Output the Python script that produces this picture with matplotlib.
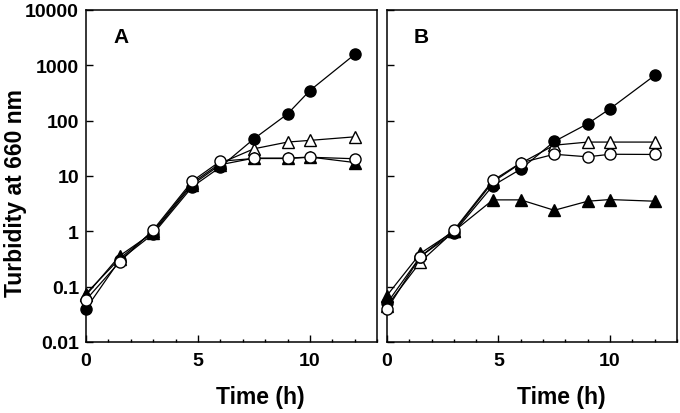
import matplotlib
matplotlib.use("Agg")
import matplotlib.pyplot as plt
from matplotlib.ticker import FixedLocator, MultipleLocator, NullLocator

plt.rcParams['font.family'] = ['Liberation Sans', 'DejaVu Sans']
plt.rcParams['font.weight'] = 'bold'

time_h = [0, 1.5, 3, 4.75, 6, 7.5, 9, 10, 12]

a_filled_circle = [0.04, 0.30, 0.9, 6.4, 14.5, 47, 132, 350, 1570]
a_open_triangle = [0.075, 0.32, 1.0, 7.5, 17, 31, 41, 44, 51]
a_filled_triangle = [0.07, 0.36, 0.95, 7.0, 16, 21, 21, 22, 17.5]
a_open_circle = [0.058, 0.28, 1.06, 8.1, 18.5, 20.7, 20.7, 21.8, 20.5]

b_filled_circle = [0.05, 0.35, 0.95, 6.7, 13.3, 42, 88, 164, 655]
b_open_triangle = [0.045, 0.28, 1.0, 7.8, 17, 36, 41, 41, 41]
b_filled_triangle = [0.069, 0.40, 1.0, 3.7, 3.7, 2.4, 3.5, 3.75, 3.5]
b_open_circle = [0.039, 0.35, 1.05, 8.3, 17.3, 24.7, 22.2, 24.7, 24.5]

y_ticks = [0.01, 0.1, 1, 10, 100, 1000, 10000]
y_tick_labels = ['0.01', '0.1', '1', '10', '100', '1000', '10000']
x_ticks = [0, 5, 10]
panel_labels = ['A', 'B']

fig = plt.figure(figsize=(6.8, 4.14), dpi=100)
axA = fig.add_axes([0.1265, 0.1715, 0.428, 0.802])
axB = fig.add_axes([0.569, 0.1715, 0.4265, 0.802])

datasets = [
    (axA, a_filled_circle, a_open_triangle, a_filled_triangle, a_open_circle),
    (axB, b_filled_circle, b_open_triangle, b_filled_triangle, b_open_circle),
]

for i, (ax, fc, ot, ft, oc) in enumerate(datasets):
    lw = 0.9
    ax.plot(time_h, ot, color='black', lw=lw, marker='^', ms=8.5,
            mfc='white', mec='black', mew=1.0, zorder=2, clip_on=False)
    ax.plot(time_h, ft, color='black', lw=lw, marker='^', ms=8.5,
            mfc='black', mec='black', mew=1.0, zorder=3, clip_on=False)
    ax.plot(time_h, fc, color='black', lw=lw, marker='o', ms=8,
            mfc='black', mec='black', mew=1.0, zorder=4, clip_on=False)
    ax.plot(time_h, oc, color='black', lw=lw, marker='o', ms=8,
            mfc='white', mec='black', mew=1.0, zorder=5, clip_on=False)

    ax.set_yscale('log')
    ax.set_ylim(0.01, 10000)
    ax.set_xlim(0, 13)
    ax.yaxis.set_major_locator(FixedLocator(y_ticks))
    ax.yaxis.set_minor_locator(NullLocator())
    ax.xaxis.set_major_locator(FixedLocator(x_ticks))
    ax.xaxis.set_minor_locator(MultipleLocator(1))
    ax.set_xticklabels([str(v) for v in x_ticks], fontsize=14, fontweight='bold')
    if i == 0:
        ax.set_yticklabels(y_tick_labels, fontsize=14, fontweight='bold')
        ax.set_ylabel('Turbidity at 660 nm', fontsize=16.5, fontweight='bold')
        ax.yaxis.set_label_coords(-0.203, 0.453)
    else:
        ax.set_yticklabels([])
    ax.tick_params(axis='both', which='major', direction='in', length=5, width=1.0,
                   top=False, right=False)
    ax.tick_params(axis='x', which='minor', direction='in', length=2, width=1.0, top=False)
    ax.tick_params(axis='x', which='major', pad=7)
    ax.tick_params(axis='y', which='major', pad=5)
    for s in ax.spines.values():
        s.set_linewidth(1.1)
    ax.set_xlabel('Time (h)', fontsize=16.5, fontweight='bold')
    ax.xaxis.set_label_coords(0.6, -0.13)
    ax.text(0.093, 0.95, panel_labels[i], transform=ax.transAxes,
            fontsize=15, fontweight='bold', va='top', ha='left')

fig.savefig('out.png', dpi=100)
